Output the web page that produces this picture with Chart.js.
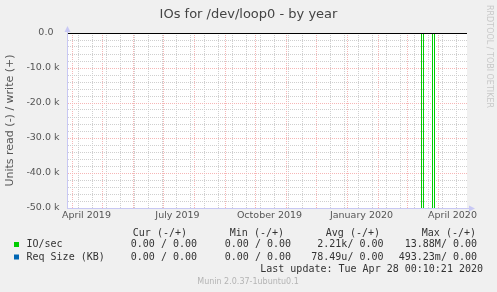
<!DOCTYPE html>
<html>
<head>
<meta charset="utf-8">
<script src="https://cdn.jsdelivr.net/npm/chart.js@4.4.0/dist/chart.umd.min.js"></script>
<style>
  html, body { margin: 0; padding: 0; background: #f0f0f0; }
  canvas { display: block; }
</style>
</head>
<body>
<canvas id="chart" width="497" height="292"></canvas>
<script>
// x values are days counted from 1 April 2019
const readDays = [-5.5, 349, 350, 351, 360, 361, 362, 394.5];
const ioRead = [0, 0, -13880000, 0, 0, -9600000, 0, 0];
const flatDays = [-5.5, 394.5];
const ioWrite = [0, 0];
const reqSizeRead = [0, 0];
const reqSizeWrite = [0, 0];

const monthStarts = [0, 30, 61, 91, 122, 153, 183, 214, 244, 275, 306, 335, 366];
const labelDays = [14, 105, 197, 289, 380];
const monthLabels = ["April 2019", "July 2019", "October 2019", "January 2020", "April 2020"];
const yLabelValues = [0, -10000, -20000, -30000, -40000, -50000];
const yLabels = ["0.0  ", "-10.0 k", "-20.0 k", "-30.0 k", "-40.0 k", "-50.0 k"];

const legendNames = ["IO/sec", "Req Size (KB)"];
const columnHeads = ["Cur (-/+)", "Min (-/+)", "Avg (-/+)", "Max (-/+)"];
const curValues = ["0.00 / 0.00", "0.00 / 0.00"];
const minValues = ["0.00 / 0.00", "0.00 / 0.00"];
const avgValues = ["2.21k/ 0.00", "78.49u/ 0.00"];
const maxValues = ["13.88M/ 0.00", "493.23m/ 0.00"];
const lastUpdate = "Last update: Tue Apr 28 00:10:21 2020";

const GREEN = "#00cc00";
const BLUE = "#0066b3";
const RED_GRID = "#f6b6b6";
const GRAY_GRID = "#cfcfcf";
const AXIS = "#c8c8f4";

function points(xs, ys) {
  return xs.map((x, i) => ({ x: x, y: ys[i] }));
}

const rrdPlugin = {
  id: "rrd",
  beforeDraw(chart) {
    const ctx = chart.ctx;
    const a = chart.chartArea;
    ctx.save();
    ctx.fillStyle = "#f0f0f0";
    ctx.fillRect(0, 0, chart.width, chart.height);
    ctx.fillStyle = "#ffffff";
    ctx.fillRect(a.left, a.top, a.right - a.left, a.bottom - a.top);
    ctx.restore();
  },
  afterDatasetsDraw(chart) {
    const ctx = chart.ctx;
    const a = chart.chartArea;
    const y0 = Math.round(chart.scales.y.getPixelForValue(0)) + 0.5;
    ctx.save();
    ctx.strokeStyle = "#000000";
    ctx.lineWidth = 1;
    ctx.beginPath();
    ctx.moveTo(a.left, y0);
    ctx.lineTo(a.right, y0);
    ctx.stroke();
    ctx.restore();
  },
  afterDraw(chart) {
    const ctx = chart.ctx;
    const a = chart.chartArea;
    ctx.save();

    // axis arrows
    ctx.strokeStyle = AXIS;
    ctx.fillStyle = AXIS;
    ctx.lineWidth = 1;
    ctx.beginPath();
    ctx.moveTo(a.left + 0.5, a.bottom);
    ctx.lineTo(a.left + 0.5, a.top - 3);
    ctx.moveTo(a.left, a.bottom + 0.5);
    ctx.lineTo(a.right + 3, a.bottom + 0.5);
    ctx.stroke();
    ctx.beginPath();
    ctx.moveTo(a.left + 0.5, a.top - 7);
    ctx.lineTo(a.left - 2.5, a.top - 1);
    ctx.lineTo(a.left + 3.5, a.top - 1);
    ctx.closePath();
    ctx.fill();
    ctx.beginPath();
    ctx.moveTo(a.right + 8, a.bottom + 0.5);
    ctx.lineTo(a.right + 2, a.bottom - 2.5);
    ctx.lineTo(a.right + 2, a.bottom + 3.5);
    ctx.closePath();
    ctx.fill();

    // title
    ctx.fillStyle = "#444444";
    ctx.font = "13px 'DejaVu Sans'";
    ctx.textAlign = "center";
    ctx.textBaseline = "alphabetic";
    ctx.fillText("IOs for /dev/loop0 - by year", 248.5, 18);

    // watermark
    ctx.save();
    ctx.translate(489, 5);
    ctx.rotate(Math.PI / 2);
    ctx.fillStyle = "#c8c8c8";
    ctx.font = "8px 'DejaVu Sans'";
    ctx.textAlign = "left";
    ctx.textBaseline = "middle";
    ctx.fillText("RRDTOOL / TOBI OETIKER", 0, 0);
    ctx.restore();

    // legend table
    ctx.font = "10px 'DejaVu Sans Mono'";
    ctx.fillStyle = "#333333";
    ctx.textBaseline = "alphabetic";
    ctx.textAlign = "right";
    const headRight = [187, 284, 380, 476];
    const valRight = [197, 291, 383.5, 477];
    columnHeads.forEach((h, i) => ctx.fillText(h, headRight[i], 236));
    const columns = [curValues, minValues, avgValues, maxValues];
    const rowBase = [247, 259.5];
    const swatch = [GREEN, BLUE];
    legendNames.forEach((name, r) => {
      ctx.fillStyle = swatch[r];
      ctx.fillRect(14, rowBase[r] - 5, 5, 5);
      ctx.fillStyle = "#333333";
      ctx.textAlign = "left";
      ctx.fillText(name, 26.5, rowBase[r]);
      ctx.textAlign = "right";
      columns.forEach((col, c) => ctx.fillText(col[r], valRight[c], rowBase[r]));
    });
    ctx.fillText(lastUpdate, 483, 272);

    // footer
    ctx.fillStyle = "#b4b4b4";
    ctx.font = "8px 'DejaVu Sans'";
    ctx.textAlign = "center";
    ctx.fillText("Munin 2.0.37-1ubuntu0.1", 248, 284);
    ctx.restore();
  },
};

const config = {
  type: "line",
  data: {
    datasets: [
      {
        label: "Req Size (KB) read",
        data: points(flatDays, reqSizeRead),
        borderColor: BLUE,
      },
      {
        label: "Req Size (KB) write",
        data: points(flatDays, reqSizeWrite),
        borderColor: BLUE,
      },
      {
        label: "IO/sec write",
        data: points(flatDays, ioWrite),
        borderColor: GREEN,
      },
      {
        label: "IO/sec read",
        data: points(readDays, ioRead),
        borderColor: GREEN,
      },
    ],
  },
  options: {
    responsive: false,
    animation: false,
    events: [],
    elements: {
      line: { borderWidth: 1, tension: 0 },
      point: { radius: 0 },
    },
    layout: {
      padding: { top: 33, right: 30, bottom: 0, left: 0 },
    },
    plugins: {
      legend: { display: false },
      tooltip: { enabled: false },
    },
    scales: {
      x: {
        type: "linear",
        min: -5.5,
        max: 394.5,
        afterFit: (s) => {
          s.height = 84;
        },
        afterBuildTicks: (s) => {
          const ticks = [];
          monthStarts.forEach((d) => ticks.push({ value: d, kind: "month" }));
          // minor grid every second Sunday
          for (let d = 6; d < 394.5; d += 14) {
            if (monthStarts.indexOf(d) < 0) ticks.push({ value: d, kind: "week" });
          }
          labelDays.forEach((d) => ticks.push({ value: d, kind: "label" }));
          ticks.sort((p, q) => p.value - q.value);
          s.ticks = ticks;
        },
        grid: {
          drawTicks: false,
          lineWidth: 1,
          color: (ctx) => {
            if (!ctx.tick) return "rgba(0,0,0,0)";
            if (ctx.tick.kind === "month") return RED_GRID;
            if (ctx.tick.kind === "week") return GRAY_GRID;
            return "rgba(0,0,0,0)";
          },
        },
        border: { color: AXIS, dash: [1, 1] },
        ticks: {
          autoSkip: false,
          maxRotation: 0,
          padding: 2,
          color: "#555555",
          font: { family: "'DejaVu Sans'", size: 9.5 },
          callback: (value) => {
            const i = labelDays.indexOf(value);
            return i >= 0 ? monthLabels[i] : "";
          },
        },
      },
      y: {
        type: "linear",
        min: -50000,
        max: 0,
        afterFit: (s) => {
          s.width = 67;
        },
        afterBuildTicks: (s) => {
          const ticks = [];
          for (let v = 0; v >= -50000; v -= 2000) ticks.push({ value: v });
          s.ticks = ticks;
        },
        grid: {
          drawTicks: false,
          lineWidth: 1,
          color: (ctx) => {
            if (!ctx.tick) return "rgba(0,0,0,0)";
            const v = ctx.tick.value;
            if (v === 0) return "rgba(0,0,0,0)";
            return v % 10000 === 0 ? RED_GRID : GRAY_GRID;
          },
        },
        border: { color: AXIS, dash: [1, 1] },
        title: {
          display: true,
          text: "Units read (-) / write (+)",
          color: "#555555",
          font: { family: "'DejaVu Sans'", size: 11 },
          padding: { top: 3.5, bottom: 0 },
        },
        ticks: {
          autoSkip: false,
          padding: 7.5,
          color: "#555555",
          font: { family: "'DejaVu Sans'", size: 9.5 },
          callback: (value) => {
            const i = yLabelValues.indexOf(value);
            return i >= 0 ? yLabels[i] : "";
          },
        },
      },
    },
  },
  plugins: [rrdPlugin],
};

new Chart(document.getElementById("chart"), config);
</script>
</body>
</html>
